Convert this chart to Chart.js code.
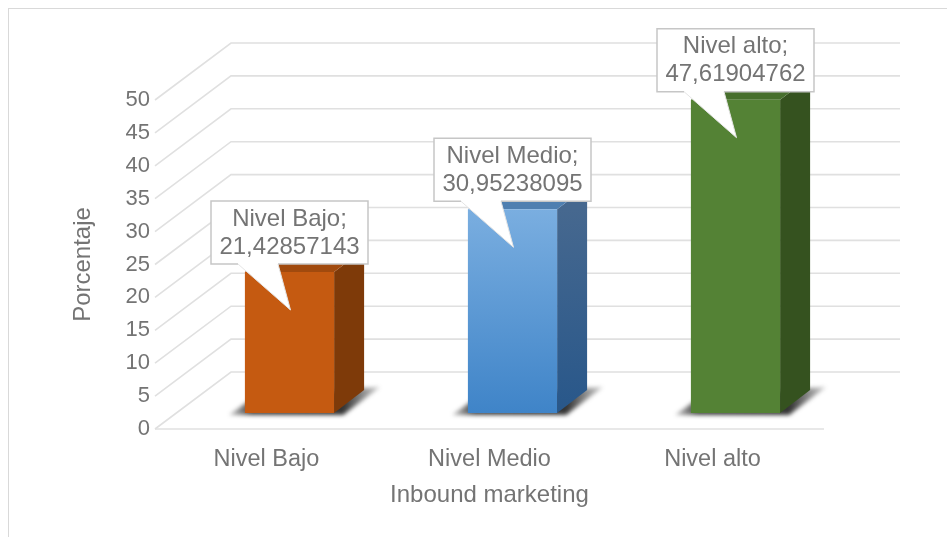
<!DOCTYPE html>
<html><head><meta charset="utf-8">
<style>html,body{margin:0;padding:0;background:#fff}
#frame{position:absolute;left:8px;top:8px;width:939px;height:529px;border-left:1px solid #d9d9d9;border-top:1px solid #d9d9d9;box-sizing:border-box}
canvas{position:absolute;left:0;top:0;filter:blur(.55px)}</style>
<script src="https://cdn.jsdelivr.net/npm/chart.js@4"></script></head>
<body><div id="frame"></div><canvas id="c" width="947" height="537"></canvas>
<script>
const categories = ["Nivel Bajo", "Nivel Medio", "Nivel alto"];
const values = [21.42857143, 30.95238095, 47.61904762];
const xTitle = "Inbound marketing";
const yTitle = "Porcentaje";
const gradTop = ["#c55a11", "#7aaee0", "#548235"];
const gradBottom = ["#c55a11", "#3f84c8", "#548235"];
const sideTop = ["#7e3a09", "#46688f", "#35521f"];
const sideBottom = ["#7e3a09", "#28578a", "#35521f"];
const roofCol = ["#a14a0e", "#4f7fb0", "#476f2d"];

const FONT = '"Liberation Sans", Arial, sans-serif';
const TXT = "#747474", GRID = "#e0e0e0";
const BACK_DX = 76, BACK_DY = 57, BAR_DX = 23, BAR_DY = 16, SIDE_DX = 30, SIDE_DY = 23;

const scene = {
  id: "scene",
  beforeDatasetsDraw(chart) {
    const c = chart.ctx, y = chart.scales.y, a = chart.chartArea;
    c.save();
    c.strokeStyle = GRID; c.lineWidth = 1.6;
    y.ticks.forEach(t => {
      const p = y.getPixelForValue(t.value);
      c.beginPath();
      c.moveTo(a.left, p);
      c.lineTo(a.left + BACK_DX, p - BACK_DY);
      c.lineTo(a.right + BACK_DX, p - BACK_DY);
      c.stroke();
    });
    const z = y.getPixelForValue(0);
    c.beginPath(); c.moveTo(a.left, z); c.lineTo(a.right, z); c.stroke();
    c.restore();

    c.save();
    c.translate(BAR_DX, -BAR_DY);
    chart.getDatasetMeta(0).data.forEach((b, i) => {
      const l = b.x - b.width / 2, r = b.x + b.width / 2, t = b.y, o = b.base;
      // floor shadow, fading towards both far ends
      c.save();
      c.filter = "blur(2px)";
      const s = c.createLinearGradient(l - 18, 0, r + 48, 0);
      s.addColorStop(0, "rgba(40,40,40,.2)");
      s.addColorStop(0.16, "rgba(30,30,30,.85)");
      s.addColorStop(0.75, "rgba(30,30,30,.9)");
      s.addColorStop(1, "rgba(60,60,60,.2)");
      c.fillStyle = s;
      c.beginPath();
      c.moveTo(l - 16, o + 2); c.lineTo(l + 4, o - 12); c.lineTo(r + SIDE_DX, o - SIDE_DY - 2);
      c.lineTo(r + 46, o - 26); c.lineTo(r + 9, o + 2);
      c.closePath(); c.fill();
      c.restore();
      // side
      const g = c.createLinearGradient(0, t, 0, o);
      g.addColorStop(0, sideTop[i]); g.addColorStop(1, sideBottom[i]);
      c.fillStyle = g;
      c.beginPath();
      c.moveTo(r, t); c.lineTo(r + SIDE_DX, t - SIDE_DY);
      c.lineTo(r + SIDE_DX, o - SIDE_DY); c.lineTo(r, o); c.closePath(); c.fill();
      // roof
      c.fillStyle = roofCol[i];
      c.beginPath();
      c.moveTo(l, t); c.lineTo(l + SIDE_DX, t - SIDE_DY);
      c.lineTo(r + SIDE_DX, t - SIDE_DY); c.lineTo(r, t); c.closePath(); c.fill();
    });
  },
  afterDatasetsDraw(chart) {
    const c = chart.ctx;
    c.restore();
    c.save();
    chart.getDatasetMeta(0).data.forEach((b, i) => {
      const cx = b.x + BAR_DX, top = b.y - BAR_DY;
      const L = cx - 78.5, R = cx + 78.5, B = top - 8, T = B - 63, tipY = top + 38;
      c.beginPath();
      c.moveTo(L, T); c.lineTo(R, T); c.lineTo(R, B);
      c.lineTo(L + 67, B); c.lineTo(cx + 1, tipY); c.lineTo(L + 27, B);
      c.lineTo(L, B); c.closePath();
      c.fillStyle = "#fff"; c.fill();
      c.strokeStyle = "#c6c6c6"; c.lineWidth = 1.5; c.lineJoin = "miter";
      c.beginPath();
      c.moveTo(L + 27, B); c.lineTo(L, B); c.lineTo(L, T); c.lineTo(R, T); c.lineTo(R, B); c.lineTo(L + 67, B);
      c.stroke();
      c.strokeStyle = "#e4e4e4"; c.lineWidth = 1;
      c.beginPath(); c.moveTo(L + 67, B); c.lineTo(cx + 1, tipY); c.lineTo(L + 27, B); c.stroke();
      c.fillStyle = TXT; c.font = "24px " + FONT; c.textAlign = "center"; c.textBaseline = "middle";
      c.fillText(categories[i] + ";", cx, T + 18);
      c.fillText(String(values[i]).replace(".", ","), cx, T + 46);
    });
    c.restore();
  }
};

new Chart(document.getElementById("c"), {
  type: "bar",
  data: {
    labels: categories,
    datasets: [{
      data: values,
      clip: false,
      barPercentage: 0.4,
      categoryPercentage: 1,
      borderWidth: 0,
      backgroundColor(ctx) {
        const ch = ctx.chart, y = ch.scales.y, i = ctx.dataIndex;
        if (i === undefined) return gradTop[0];
        const p0 = y ? y.getPixelForValue(values[i]) : NaN, p1 = y ? y.getPixelForValue(0) : NaN;
        if (!ch.chartArea || !Number.isFinite(p0) || !Number.isFinite(p1)) return gradTop[i];
        const g = ch.ctx.createLinearGradient(0, p0, 0, p1);
        g.addColorStop(0, gradTop[i]); g.addColorStop(1, gradBottom[i]);
        return g;
      }
    }]
  },
  plugins: [scene],
  options: {
    responsive: false, animation: false, devicePixelRatio: 1,
    layout: { padding: { left: 69, right: 123, top: 100, bottom: 27 } },
    plugins: { legend: { display: false }, tooltip: { enabled: false }, title: { display: false } },
    scales: {
      x: {
        grid: { display: false, tickLength: 0 }, border: { display: false },
        ticks: { color: TXT, font: { family: FONT, size: 23.5 }, padding: 16, maxRotation: 0, autoSkip: false },
        title: { display: true, text: xTitle, color: TXT, font: { family: FONT, size: 24 }, padding: 0 },
        afterFit(s) { s.height = 81; }
      },
      y: {
        min: 0, max: 50,
        grid: { display: false, tickLength: 0 }, border: { display: false },
        ticks: { stepSize: 5, color: TXT, font: { family: FONT, size: 22 }, padding: 5 },
        title: { display: true, text: yTitle, color: TXT, font: { family: FONT, size: 24 }, padding: 0 },
        afterFit(s) { s.width = 86; }
      }
    }
  }
});
</script></body></html>
